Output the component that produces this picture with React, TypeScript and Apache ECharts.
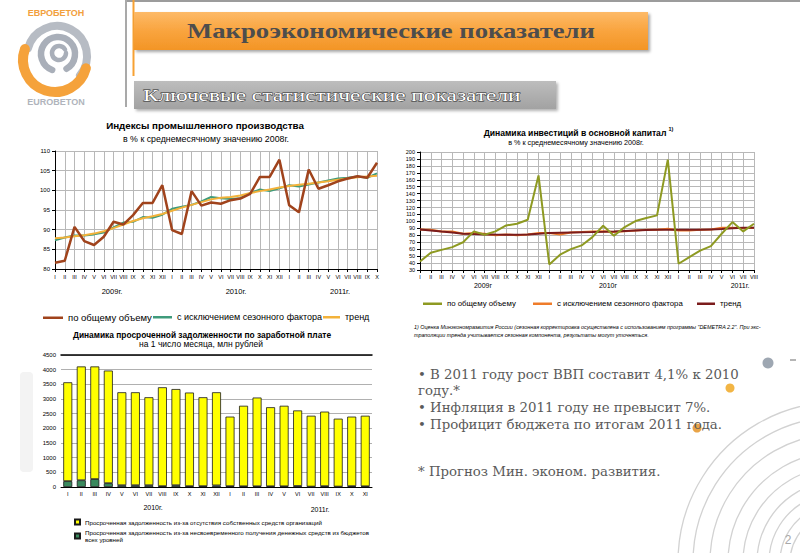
import { useEffect, useRef } from 'react';
import * as echarts from 'echarts';

const MONTHS = ['I', 'II', 'III', 'IV', 'V', 'VI', 'VII', 'VIII', 'IX', 'X', 'XI', 'XII'];

// Chart 1: industrial production indices, % of 2008 monthly average
const prodMonths = [...MONTHS, ...MONTHS, ...MONTHS.slice(0, 10)];
const prodYears = ['2009г.', '2010г.', '2011г.'];
const prodTotal = [81.6, 82.1, 90.7, 87.1, 86.1, 88.2, 92.0, 91.3, 93.7, 96.8, 96.8, 101.3,
  89.9, 88.9, 99.8, 96.1, 96.9, 96.6, 97.5, 97.9, 99.1, 103.4, 103.4, 107.8,
  96.2, 94.4, 105.3, 100.4, 101.3, 102.3, 103.0, 103.6, 103.2, 107.0];
const prodSeasonAdj = [87.3, 88.0, 88.5, 88.5, 88.8, 89.3, 90.6, 91.8, 92.0, 93.2, 93.0, 93.8,
  95.3, 95.8, 96.3, 97.2, 98.3, 98.0, 97.8, 98.0, 99.3, 100.2, 99.8, 100.5,
  101.3, 101.0, 101.5, 102.0, 102.5, 103.0, 103.2, 103.5, 103.2, 104.3];
const prodTrend = [87.8, 88.0, 88.3, 88.6, 89.0, 89.6, 90.4, 91.3, 92.2, 92.9, 93.4, 94.0,
  94.8, 95.6, 96.3, 97.0, 97.7, 98.1, 98.3, 98.7, 99.3, 99.8, 100.2, 100.7,
  101.1, 101.4, 101.7, 102.0, 102.3, 102.7, 103.0, 103.3, 103.5, 103.7];

// Chart 2: fixed capital investment, % of 2008 monthly average
const invMonths = [...MONTHS, ...MONTHS, ...MONTHS.slice(0, 8)];
const invYears = ['2009г', '2010г', '2011г.'];
const invTotal = [42.3, 54.8, 59.0, 63.0, 70.0, 85.6, 80.8, 85.6, 94.2, 96.6, 102.4, 166.3,
  38.0, 52.0, 60.0, 65.4, 77.4, 93.8, 79.3, 91.8, 100.5, 104.8, 108.7, 189.0,
  39.0, 48.6, 58.0, 64.4, 82.2, 99.0, 85.6, 96.6];
const invSeasonAdj = [88.5, 88.0, 85.4, 85.4, 82.2, 83.2, 82.2, 80.0, 81.3, 80.0, 81.3, 83.2,
  83.2, 81.3, 84.1, 84.6, 85.6, 86.0, 84.6, 86.0, 87.0, 88.0, 88.0, 89.4,
  87.0, 87.0, 88.0, 88.5, 91.0, 91.0, 90.0, 91.0];
const invTrend = [88.5, 87.0, 85.4, 84.0, 82.2, 81.7, 81.3, 81.0, 80.8, 80.8, 81.3, 82.2,
  83.2, 83.7, 84.1, 84.4, 84.6, 85.0, 85.6, 86.3, 87.0, 87.5, 88.0, 88.0,
  88.0, 88.0, 88.0, 88.5, 89.0, 90.0, 91.0, 91.0];

// Chart 3: overdue wage debt, mln rub
const debtMonths = [...MONTHS, ...MONTHS.slice(0, 11)];
const debtYears = ['2010г.', '2011г.'];
const debtOwnFunds = [3370, 3880, 3840, 3840, 3170, 3170, 3000, 3370, 3280, 3190, 3030, 3175,
  2370, 2745, 3025, 2695, 2745, 2575, 2415, 2540, 2315, 2370, 2405];
const debtBudget = [200, 230, 270, 130, 60, 60, 60, 30, 60, 30, 30, 55,
  30, 25, 25, 25, 25, 35, 15, 30, 15, 30, 25];

const seriesNames = ['по общему объему', 'с исключением сезонного фактора', 'тренд'];
const debtNames = [
  'Просроченная задолженность из-за отсутствия собственных средств организаций',
  'Просроченная задолженность из-за несвоевременного получения денежных средств из бюджетов всех уровней',
];

const bullets = [
  '• В 2011 году рост ВВП составит 4,1% к 2010',
  'году.*',
  '• Инфляция в 2011 году не превысит 7%.',
  '• Профицит бюджета по итогам 2011 года.',
];
const bulletNote = '* Прогноз Мин. эконом. развития.';

const SANS = '"Liberation Sans", Arial, sans-serif';
const SERIF = '"Liberation Serif", "Times New Roman", serif';
const GRID_C = '#b8b8b8';

const C = {
  prodTotal: '#A0431C', prodSA: '#3F9B7B', prodTrend: '#F3B23A',
  invTotal: '#8E9A22', invSA: '#EF7C2A', invTrend: '#7B1C1C',
  yellow: '#FFFF00', green: '#3A8A5E',
};

const txt = (text: string, x: number, y: number, size: number, extra: any = {}, el: any = {}) => ({
  type: 'text', x, y, silent: true, ...el,
  style: {
    text, fontSize: size, fontFamily: SANS, fill: '#000',
    textAlign: 'center', textVerticalAlign: 'middle', ...extra,
  },
});

function lineAxisX(grid: number, data: string[], fontSize: number, margin: number) {
  return {
    gridIndex: grid, type: 'category', data, boundaryGap: false,
    axisLine: { lineStyle: { color: '#000', width: 1 } },
    axisTick: { show: true, interval: 0, length: 3, lineStyle: { color: '#000' } },
    axisLabel: { interval: 0, fontSize, color: '#000', margin, fontFamily: SANS },
    splitLine: { show: true, interval: 0, lineStyle: { color: GRID_C, width: 1 } },
  };
}

function lineLegend(name: string, color: string, left: number, centerY: number, w: number, fontSize: number) {
  return {
    left, top: centerY - 1.25, padding: 0, itemWidth: w, itemHeight: 2.5, icon: 'rect',
    textStyle: { fontSize, color: '#000' },
    data: [{ name, itemStyle: { color, borderWidth: 0 } }],
  };
}

const plain = (v: number) => String(v);

function buildOption() {
  const graphics: any[] = [];

  // header lines
  graphics.push({ type: 'rect', shape: { x: 126, y: 0, width: 674, height: 2 }, style: { fill: '#9c9c9c' }, silent: true });
  graphics.push({ type: 'rect', shape: { x: 125, y: 0, width: 2, height: 107 }, style: { fill: '#a9a9a9' }, silent: true });
  graphics.push({ type: 'rect', shape: { x: 132.5, y: 0, width: 2, height: 76 }, style: { fill: '#F7A133' }, silent: true });
  // orange title box
  graphics.push({
    type: 'rect', shape: { x: 134, y: 12, width: 514, height: 38 }, silent: true,
    style: {
      fill: new echarts.graphic.LinearGradient(0, 0, 0, 1, [
        { offset: 0, color: '#FDBA68' }, { offset: 0.5, color: '#F9A43E' }, { offset: 1, color: '#F39526' },
      ]),
      shadowBlur: 3, shadowOffsetX: 2, shadowOffsetY: 2, shadowColor: 'rgba(0,0,0,0.35)',
    },
  });
  graphics.push(txt('Макроэкономические показатели', 391, 31, 21,
    { fontFamily: SERIF, fontWeight: 'bold', fill: '#4d4d4d' }, { scaleX: 1.27 }));
  // gray subtitle box
  graphics.push({
    type: 'rect', shape: { x: 134, y: 81, width: 422, height: 28 }, silent: true,
    style: {
      fill: new echarts.graphic.LinearGradient(0, 0, 0, 1, [
        { offset: 0, color: '#BDBDBD' }, { offset: 1, color: '#A2A2A2' },
      ]),
      shadowBlur: 3, shadowOffsetX: 2, shadowOffsetY: 2, shadowColor: 'rgba(0,0,0,0.3)',
    },
  });
  graphics.push(txt('Ключевые статистические показатели', 143, 95, 17,
    { fontFamily: SERIF, fill: '#ffffff', stroke: '#2a2a2a', lineWidth: 0.8, textAlign: 'left' }, { scaleX: 1.375 }));

  // logo
  graphics.push(txt('ЕВРОБЕТОН', 56, 12.5, 9.5, { fontWeight: 'bold', fill: '#F2A03D' }, { scaleX: 0.95 }));
  graphics.push(txt('EUROBETON', 56, 102, 9.5, { fontWeight: 'bold', fill: '#B0B4BC' }, { scaleX: 0.95 }));
  const arc = (cx: number, cy: number, r: number, a0: number, a1: number, color: string, w: number) => ({
    type: 'arc', silent: true,
    shape: { cx, cy, r, startAngle: (a0 * Math.PI) / 180, endAngle: (a1 * Math.PI) / 180, clockwise: true },
    style: { stroke: color, lineWidth: w, fill: 'none', lineCap: 'round' },
  });
  graphics.push(arc(57, 56, 30, 195, 400, '#B7BCC4', 8));
  graphics.push(arc(55, 60, 32, 15, 200, '#F5A23B', 10));
  graphics.push(arc(58, 54, 17, 110, 420, '#A9AFB9', 6.5));
  graphics.push(arc(59, 53, 7, 0, 330, '#A9AFB9', 4.5));

  // faint left decoration
  graphics.push({ type: 'rect', shape: { x: 20, y: 372, width: 13, height: 100, r: 4 }, style: { fill: '#f3f3f3' }, silent: true });

  // right decoration: concentric arcs and dots
  [160, 145, 128, 110, 95, 81, 69, 58, 48].forEach((r) => {
    graphics.push({ type: 'circle', silent: true, z: -1, shape: { cx: 838, cy: 562, r }, style: { fill: 'none', stroke: '#d2d2d2', lineWidth: 1.3 } });
  });
  graphics.push({ type: 'circle', silent: true, shape: { cx: 768, cy: 363, r: 5.5 }, style: { fill: '#9EA7B2' } });
  graphics.push({ type: 'rect', silent: true, shape: { x: 790, y: 359, width: 6, height: 2 }, style: { fill: '#b5b5b5' } });
  graphics.push({ type: 'circle', silent: true, shape: { cx: 730, cy: 388, r: 4.5 }, style: { fill: '#F2B545' } });
  graphics.push({ type: 'circle', silent: true, shape: { cx: 697, cy: 428, r: 4.5 }, style: { fill: '#E9A448' } });
  graphics.push(txt('2', 788, 540, 12, { fill: '#a8a8a8' }));

  // chart 1 titles & years
  graphics.push(txt('Индексы промышленного производства', 205, 125.5, 9.8, { fontWeight: 'bold' }));
  graphics.push(txt('в % к среднемесячному значению 2008г.', 206, 139, 8.8));
  [112, 236, 340].forEach((x, i) => graphics.push(txt(prodYears[i], x, 291, 7.5)));

  // chart 2 titles & years & footnote
  graphics.push(txt('Динамика инвестиций в основной капитал', 575, 133, 8.6, { fontWeight: 'bold' }));
  graphics.push(txt('1)', 671, 129, 5.5, { fontWeight: 'bold' }));
  graphics.push(txt('в % к среднемесячному значению 2008г.', 576, 142, 7.2));
  [483, 608, 740].forEach((x, i) => graphics.push(txt(invYears[i], x, 285, 7)));
  graphics.push(txt('1) Оценка Минэкономразвития России (сезонная корректировка осуществлена с использованием программы "DEMETRA 2.2". При экс-',
    414, 327, 5.4, { fontStyle: 'italic', textAlign: 'left' }));
  graphics.push(txt('траполяции тренда учитывается сезонная компонента, результаты могут уточняться.',
    414, 335, 5.4, { fontStyle: 'italic', textAlign: 'left' }));

  // chart 3 titles & years
  graphics.push(txt('Динамика просроченной задолженности по заработной плате', 202, 335, 8.4, { fontWeight: 'bold' }));
  graphics.push(txt('на 1 число месяца, млн рублей', 201, 344, 8.5));
  graphics.push(txt(debtYears[0], 153, 507, 7));
  graphics.push(txt(debtYears[1], 320, 509, 7));

  // bullets
  const bulletY = [375, 391, 408, 425];
  const bStyle = { fontFamily: '"DejaVu Serif", serif', fill: '#5a5a5a', textAlign: 'left' };
  bullets.forEach((b, i) => graphics.push(txt(b, 418, bulletY[i], 12, bStyle, { scaleX: 1.11 })));
  graphics.push(txt(bulletNote, 418, 472, 12, bStyle, { scaleX: 1.11 }));

  const lineS = (name: string, data: number[], color: string, width: number, idx: number, z: number) => ({
    name, type: 'line', data, xAxisIndex: idx, yAxisIndex: idx, symbol: 'none', z,
    lineStyle: { color, width }, itemStyle: { color },
  });

  return {
    animation: false,
    backgroundColor: '#ffffff',
    textStyle: { fontFamily: SANS },
    grid: [
      { left: 55, top: 151, width: 322, height: 118 },
      { left: 420, top: 152, width: 334, height: 118 },
      { left: 61, top: 355, width: 311, height: 132 },
    ],
    xAxis: [
      lineAxisX(0, prodMonths, 5.5, 5),
      lineAxisX(1, invMonths, 5.5, 4),
      {
        gridIndex: 2, type: 'category', data: debtMonths,
        axisLine: { lineStyle: { color: '#000', width: 1 } },
        axisTick: { show: false },
        axisLabel: { interval: 0, fontSize: 5.5, color: '#000', margin: 4 },
      },
      {
        gridIndex: 2, type: 'category', position: 'top', data: debtMonths,
        axisLine: { show: true, lineStyle: { color: '#000', width: 1.5 } },
        axisTick: { show: false }, axisLabel: { show: false },
      },
    ],
    yAxis: [
      {
        gridIndex: 0, type: 'value', min: 80, max: 110, interval: 5,
        axisLine: { show: true, lineStyle: { color: '#000' } },
        axisTick: { show: true, length: 3, lineStyle: { color: '#000' } },
        axisLabel: { fontSize: 6, color: '#000', margin: 5, formatter: plain },
        splitLine: { lineStyle: { color: GRID_C, width: 1 } },
      },
      {
        gridIndex: 1, type: 'value', min: 30, max: 200, interval: 10,
        axisLine: { show: true, lineStyle: { color: '#000' } },
        axisTick: { show: true, length: 3, lineStyle: { color: '#000' } },
        axisLabel: { fontSize: 5.5, color: '#000', margin: 5, formatter: plain },
        splitLine: { lineStyle: { color: GRID_C, width: 1 } },
      },
      {
        gridIndex: 2, type: 'value', min: 0, max: 4500, interval: 500,
        axisLine: { show: false }, axisTick: { show: false },
        axisLabel: { fontSize: 6, color: '#000', margin: 5, formatter: plain },
        splitLine: { lineStyle: { color: '#b0b0b0', width: 1 } },
      },
    ],
    legend: [
      lineLegend(seriesNames[0], C.prodTotal, 43, 314, 20, 9.5),
      lineLegend(seriesNames[1], C.prodSA, 153, 314, 19, 9),
      lineLegend(seriesNames[2], C.prodTrend, 323, 314, 17, 9),
      lineLegend(seriesNames[0], C.invTotal, 423, 301, 19, 7.8),
      lineLegend(seriesNames[1], C.invSA, 533, 301, 19, 7.8),
      lineLegend(seriesNames[2], C.invTrend, 697, 301, 18, 7.8),
      {
        left: 74, top: 518.5, padding: 0, orient: 'vertical', itemWidth: 5, itemHeight: 5, itemGap: 4,
        icon: 'rect',
        textStyle: { fontSize: 6.2, color: '#000', lineHeight: 6.5 },
        formatter: (name: string) => name.replace(' всех уровней', '\nвсех уровней'),
        data: debtNames,
      },
    ],
    series: [
      lineS(seriesNames[1], prodSeasonAdj, C.prodSA, 2, 0, 2),
      lineS(seriesNames[2], prodTrend, C.prodTrend, 2, 0, 3),
      lineS(seriesNames[0], prodTotal, C.prodTotal, 2.5, 0, 4),
      lineS(seriesNames[1], invSeasonAdj, C.invSA, 2, 1, 2),
      lineS(seriesNames[2], invTrend, C.invTrend, 2, 1, 3),
      lineS(seriesNames[0], invTotal, C.invTotal, 2, 1, 4),
      {
        name: debtNames[1], type: 'bar', stack: 'debt', data: debtBudget, xAxisIndex: 2, yAxisIndex: 2,
        barWidth: 9, itemStyle: { color: C.green, borderColor: '#1a1a1a', borderWidth: 0.8 },
      },
      {
        name: debtNames[0], type: 'bar', stack: 'debt', data: debtOwnFunds, xAxisIndex: 2, yAxisIndex: 2,
        barWidth: 9, itemStyle: { color: C.yellow, borderColor: '#1a1a1a', borderWidth: 0.8 },
      },
    ],
    graphic: { elements: graphics },
  };
}

export default function App() {
  const ref = useRef<HTMLDivElement>(null);
  useEffect(() => {
    if (!ref.current) return;
    const chart = echarts.init(ref.current, null, { renderer: 'svg' });
    chart.setOption(buildOption() as any);
    return () => chart.dispose();
  }, []);
  return <div ref={ref} style={{ position: 'absolute', left: 0, top: 0, width: 800, height: 553 }} />;
}
